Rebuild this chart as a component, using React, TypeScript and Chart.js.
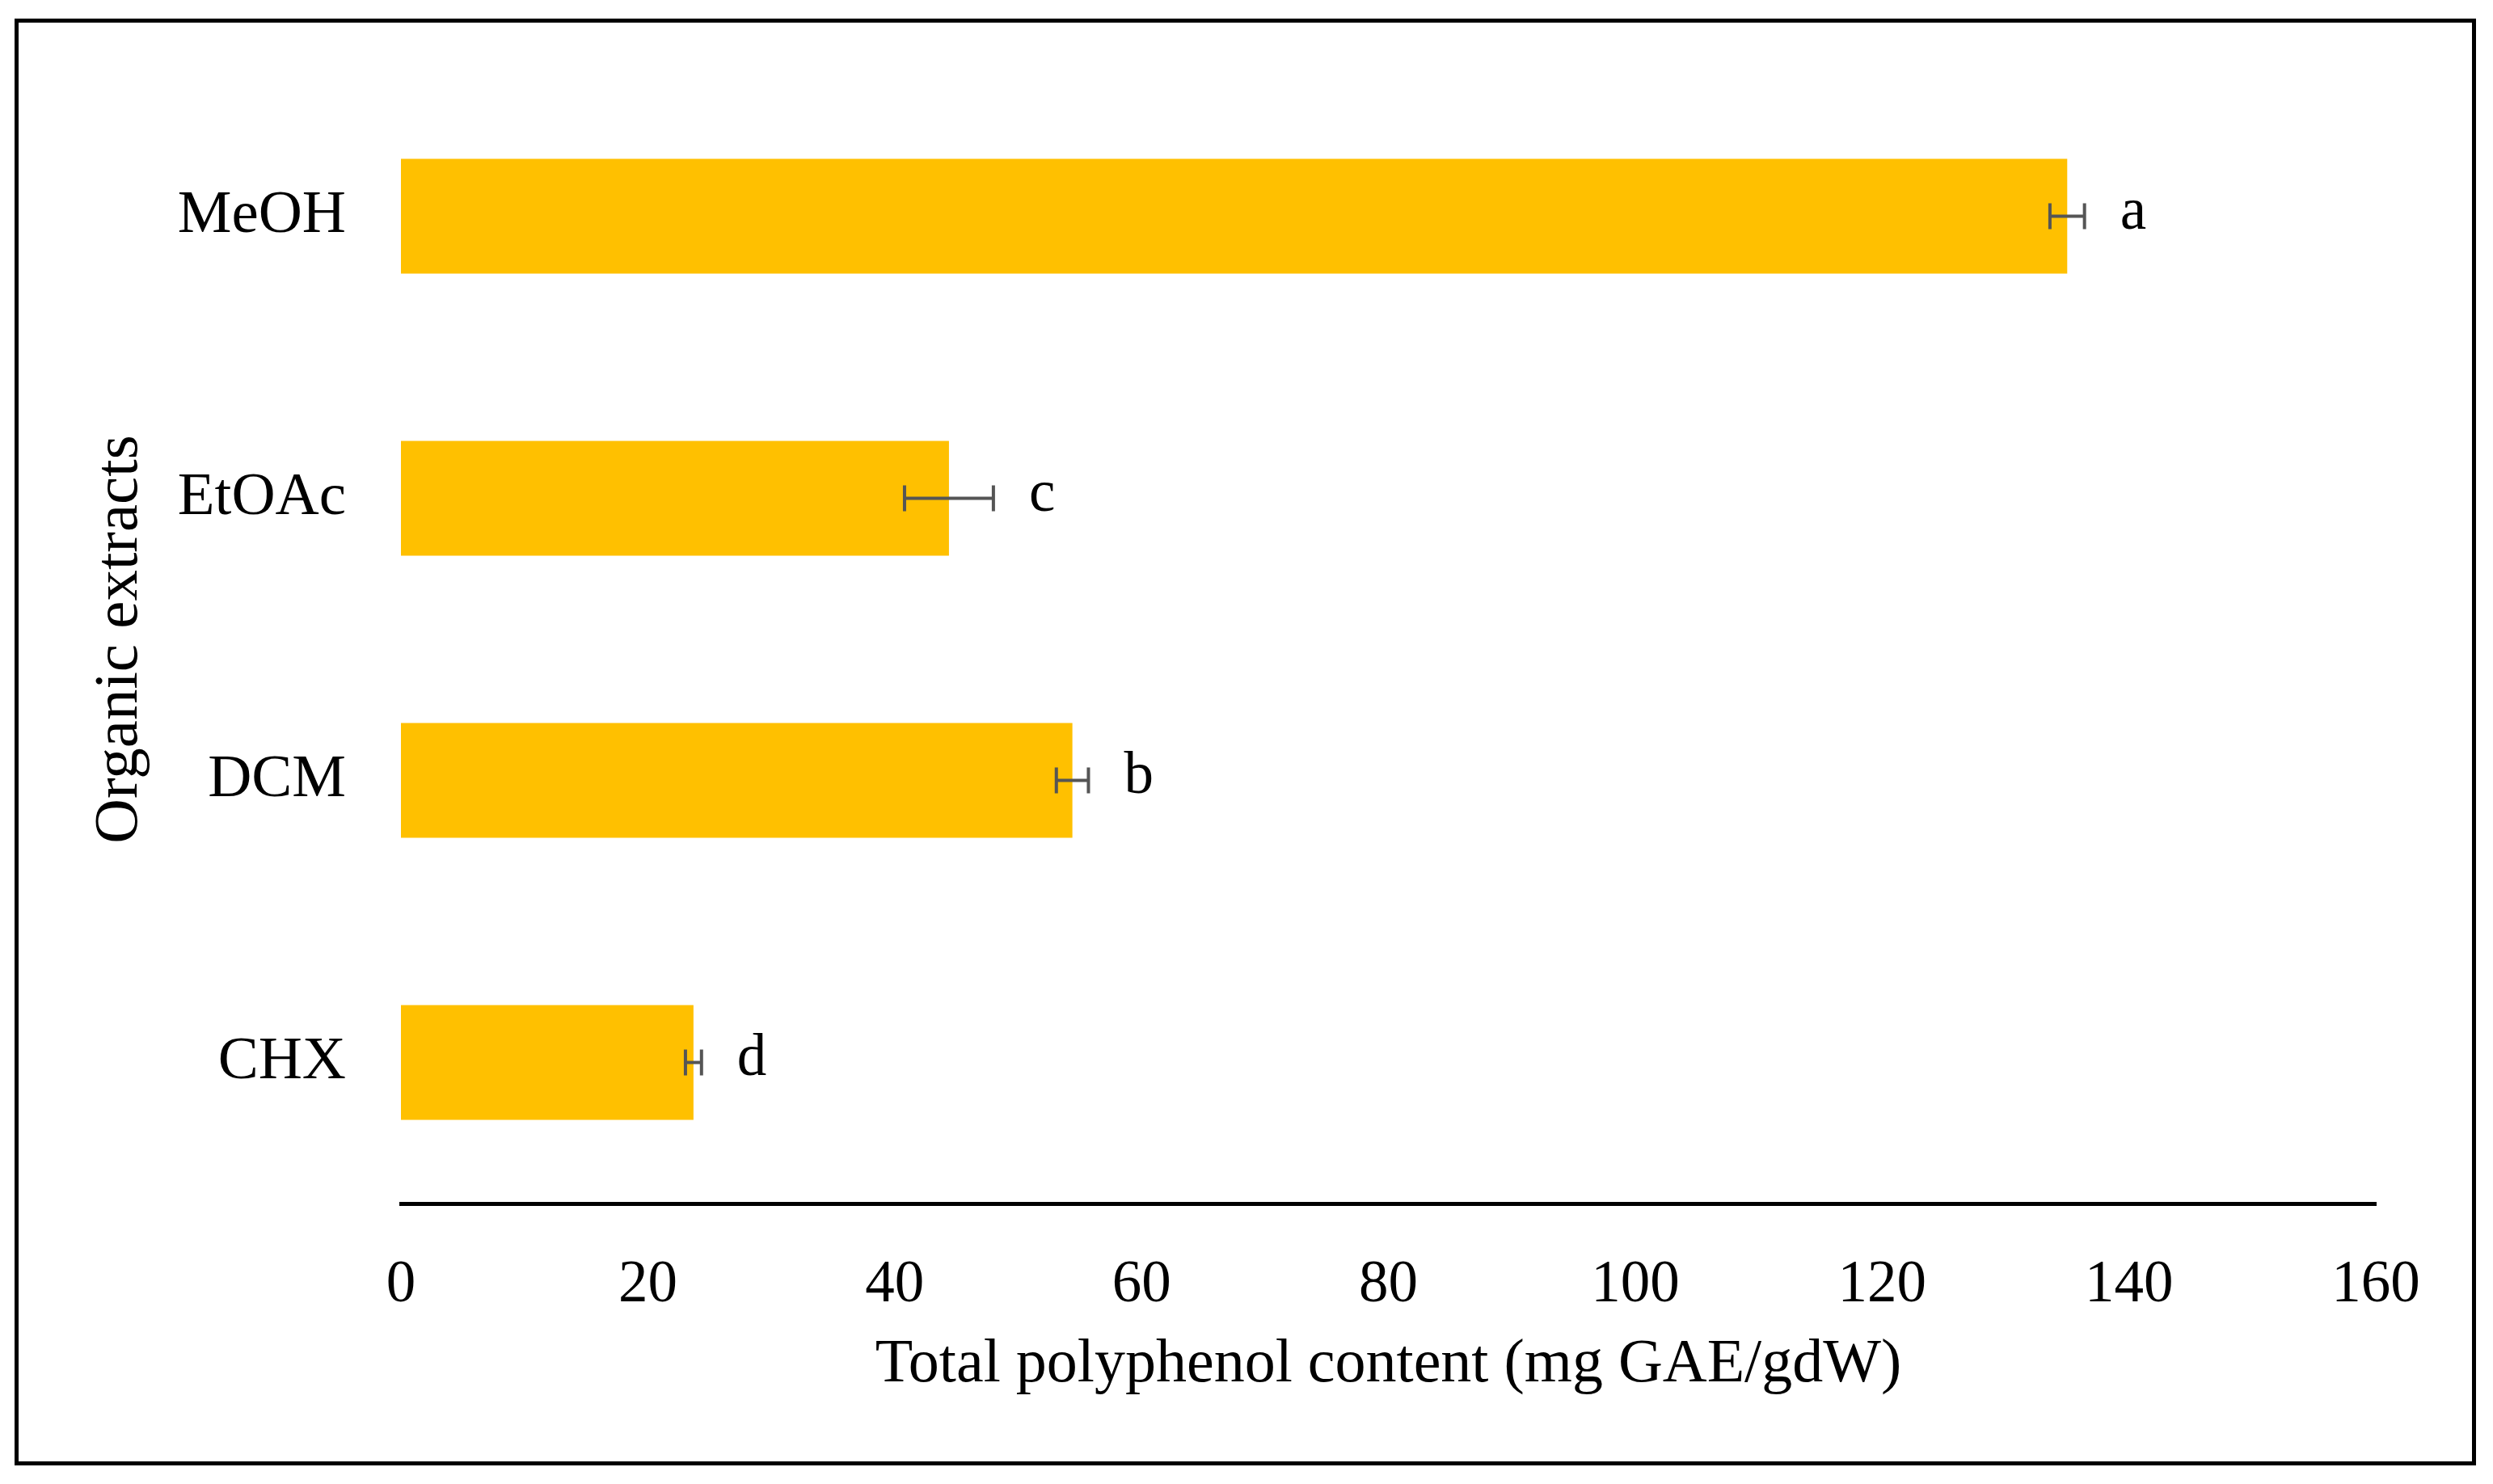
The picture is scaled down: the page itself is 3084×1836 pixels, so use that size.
import React, { useEffect, useRef } from "react";
import { Chart, registerables } from "chart.js";

Chart.register(...registerables);

const categories = ["MeOH", "EtOAc", "DCM", "CHX"];
const values = [135.0, 44.4, 54.4, 23.7];
const errors = [1.4, 3.6, 1.3, 0.65];
const letters = ["a", "c", "b", "d"];
const xTicks = [0, 20, 40, 60, 80, 100, 120, 140, 160];

const FONT = "'Liberation Serif', 'Times New Roman', serif";

const errorBarPlugin = {
  id: "errorBars",
  afterDatasetsDraw(chart: any) {
    const meta = chart.getDatasetMeta(0);
    const xs = chart.scales.x;
    const ctx = chart.ctx;
    ctx.save();
    ctx.strokeStyle = "#555555";
    ctx.lineWidth = 4;
    meta.data.forEach((bar: any, i: number) => {
      const y = bar.y;
      const x1 = xs.getPixelForValue(values[i] - errors[i]);
      const x2 = xs.getPixelForValue(values[i] + errors[i]);
      ctx.beginPath();
      ctx.moveTo(x1, y);
      ctx.lineTo(x2, y);
      ctx.moveTo(x1, y - 16);
      ctx.lineTo(x1, y + 16);
      ctx.moveTo(x2, y - 16);
      ctx.lineTo(x2, y + 16);
      ctx.stroke();
      ctx.fillStyle = "#000";
      ctx.font = `73px ${FONT}`;
      ctx.textAlign = "left";
      ctx.textBaseline = "alphabetic";
      ctx.fillText(letters[i], x2 + 44, y + 15);
    });
    ctx.restore();
  },
};

export default function App() {
  const ref = useRef<HTMLCanvasElement | null>(null);
  useEffect(() => {
    if (!ref.current) return;
    const chart = new Chart(ref.current, {
      type: "bar",
      data: {
        labels: categories,
        datasets: [
          {
            data: values,
            backgroundColor: "#FFC000",
            borderWidth: 0,
            categoryPercentage: 1,
            barPercentage: 0.407,
          },
        ],
      },
      options: {
        indexAxis: "y",
        animation: false,
        responsive: true,
        maintainAspectRatio: false,
        layout: { padding: { left: 103, top: 93, right: 145, bottom: 101 } },
        plugins: { legend: { display: false }, tooltip: { enabled: false } },
        scales: {
          x: {
            type: "linear",
            min: 0,
            max: 160,
            afterBuildTicks: (scale: any) => {
              scale.ticks = xTicks.map((v) => ({ value: v }));
            },
            afterFit: (scale: any) => {
              scale.height = 246;
            },
            grid: { display: false, drawTicks: false, tickLength: 0 },
            border: { display: true, color: "#000", width: 5 },
            ticks: {
              padding: 58,
              color: "#000",
              font: { family: FONT, size: 73 },
              maxRotation: 0,
              autoSkip: false,
            },
            title: {
              display: true,
              text: "Total polyphenol content (mg GAE/gdW)",
              color: "#000",
              font: { family: FONT, size: 76 },
              padding: { top: 0, bottom: 0 },
            },
          },
          y: {
            afterFit: (scale: any) => {
              scale.width = 393;
              scale.paddingTop = 0;
              scale.paddingBottom = 0;
            },
            grid: { display: false, drawTicks: false, tickLength: 0 },
            border: { display: false },
            ticks: {
              padding: 68,
              color: "#000",
              font: { family: FONT, size: 75 },
            },
            title: {
              display: true,
              text: "Organic extracts",
              color: "#000",
              font: { family: FONT, size: 77 },
              padding: { top: 0, bottom: 0 },
            },
          },
        },
      },
      plugins: [errorBarPlugin],
    });
    return () => chart.destroy();
  }, []);

  return (
    <div
      style={{
        position: "absolute",
        left: 0,
        top: 0,
        width: 3084,
        height: 1836,
        background: "#fff",
      }}
    >
      <canvas ref={ref} style={{ width: "100%", height: "100%" }} />
      <div
        style={{
          position: "absolute",
          left: 18,
          top: 23,
          width: 3045,
          height: 1790,
          border: "5px solid #000",
          boxSizing: "border-box",
          pointerEvents: "none",
        }}
      />
    </div>
  );
}
